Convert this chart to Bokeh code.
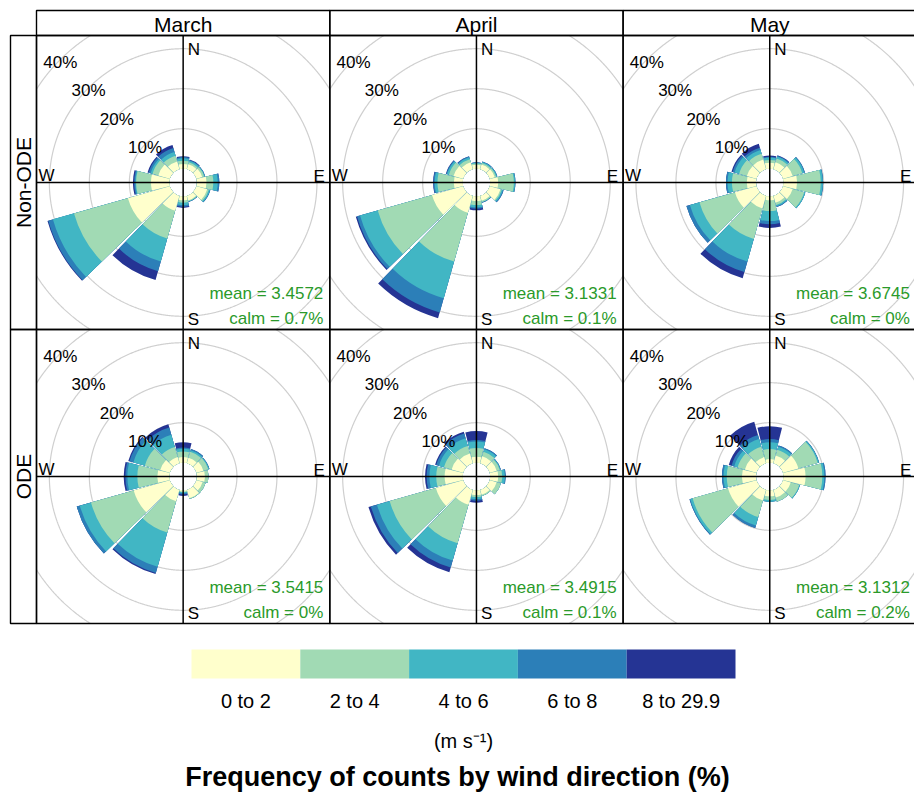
import numpy as np
from bokeh.plotting import figure
from bokeh.models import Range1d
from bokeh.core.properties import value
from bokeh.embed import file_html
from bokeh.resources import INLINE

# ---------------- data ----------------
directions = [0, 30, 60, 90, 120, 150, 180, 210, 240, 270, 300, 330]
speed_bins = ["0 to 2", "2 to 4", "4 to 6", "6 to 8", "8 to 29.9"]
bin_colors = ["#ffffcc", "#a1dab4", "#41b6c4", "#2c7fb8", "#253494"]
months = ["March", "April", "May"]
groups = ["Non-ODE", "ODE"]
grid_levels = [10, 20, 30, 40]
grid_labels = ["10%", "20%", "30%", "40%"]

# frequency (%) by direction; one row per speed bin (0-2, 2-4, 4-6, 6-8, 8-29.9)
march_non_ode = [
    [1.2, 1.3, 1.5, 2.4, 2.8, 1.2, 1.0, 3.9, 10.9, 4.6, 3.0, 2.0],
    [0.8, 0.5, 0.5, 1.7, 0.4, 0.2, 0.6, 7.2, 14.0, 3.7, 1.5, 1.5],
    [0.6, 0.4, 0.2, 1.1, 0.3, 0.1, 0.6, 6.0, 5.5, 0.2, 0.5, 1.0],
    [0.3, 0.2, 0.1, 0.4, 0.1, 0.1, 0.4, 2.5, 1.2, 0.3, 0.5, 1.0],
    [0.2, 0.1, 0.0, 0.0, 0.0, 0.0, 0.3, 2.3, 0.2, 0.3, 0.3, 0.8],
]
april_non_ode = [
    [1.0, 1.2, 1.3, 2.0, 2.8, 1.3, 1.2, 4.4, 8.1, 2.2, 2.5, 1.8],
    [0.3, 0.4, 0.4, 3.9, 0.3, 0.3, 1.0, 12.7, 14.1, 4.1, 1.2, 0.8],
    [0.2, 0.3, 0.2, 0.3, 0.3, 0.1, 0.6, 9.5, 4.6, 0.7, 0.5, 0.5],
    [0.1, 0.1, 0.1, 0.1, 0.2, 0.1, 0.3, 3.7, 0.8, 0.3, 0.2, 0.2],
    [0.0, 0.0, 0.0, 0.0, 0.0, 0.0, 0.4, 1.5, 0.3, 0.1, 0.1, 0.1],
]
may_non_ode = [
    [1.5, 1.8, 2.5, 3.4, 2.5, 1.8, 1.0, 3.3, 5.6, 2.3, 2.5, 2.5],
    [0.7, 1.0, 2.5, 5.9, 3.0, 0.6, 2.7, 7.9, 9.2, 3.7, 2.0, 1.5],
    [0.6, 0.5, 0.5, 0.5, 0.3, 0.3, 2.5, 5.9, 2.5, 1.1, 1.2, 1.0],
    [0.2, 0.2, 0.2, 0.1, 0.0, 0.2, 0.8, 2.7, 0.9, 0.4, 0.5, 0.6],
    [0.3, 0.1, 0.0, 0.0, 0.0, 0.0, 0.9, 1.6, 0.0, 0.0, 0.3, 1.0],
]
march_ode = [
    [1.4, 1.4, 1.8, 2.0, 1.6, 2.2, 0.3, 3.0, 9.4, 3.0, 2.5, 1.6],
    [1.4, 1.6, 1.3, 0.9, 0.8, 0.2, 0.2, 8.1, 11.1, 5.0, 4.0, 2.6],
    [0.7, 0.4, 0.2, 0.0, 0.0, 0.0, 0.2, 8.9, 2.9, 2.5, 3.0, 3.2],
    [0.3, 0.3, 0.1, 0.0, 0.0, 0.0, 0.3, 1.6, 0.8, 0.5, 1.0, 1.9],
    [1.3, 0.0, 0.0, 0.0, 0.0, 0.0, 0.4, 0.3, 0.0, 0.4, 0.3, 0.8],
]
april_ode = [
    [1.5, 1.8, 1.8, 2.0, 1.8, 1.3, 1.2, 3.9, 7.1, 4.5, 3.0, 2.5],
    [2.2, 1.2, 0.8, 1.0, 1.1, 0.3, 0.5, 10.0, 12.0, 2.1, 2.0, 2.0],
    [1.6, 0.6, 0.2, 0.7, 0.0, 0.0, 0.5, 4.5, 3.3, 1.7, 1.3, 2.0],
    [0.4, 0.3, 0.1, 0.2, 0.0, 0.0, 0.4, 1.8, 1.6, 0.7, 0.7, 1.2],
    [2.2, 0.0, 0.0, 0.0, 0.0, 0.0, 0.5, 1.2, 0.6, 0.4, 0.3, 0.5],
]
may_ode = [
    [0.9, 2.0, 4.0, 5.5, 2.0, 2.0, 1.5, 2.8, 7.4, 3.5, 3.0, 1.6],
    [2.5, 1.5, 5.0, 4.2, 2.2, 1.1, 0.9, 4.3, 9.2, 3.8, 1.9, 2.7],
    [1.7, 0.8, 0.3, 0.5, 0.2, 0.0, 0.5, 2.2, 0.6, 0.8, 0.9, 2.0],
    [0.8, 0.3, 0.1, 0.3, 0.0, 0.0, 0.0, 0.6, 0.2, 0.4, 0.7, 1.0],
    [3.2, 0.0, 0.0, 0.0, 0.0, 0.0, 0.0, 0.0, 0.0, 0.0, 0.7, 3.5],
]
mean_non_ode = ["3.4572", "3.1331", "3.6745"]
calm_non_ode = ["0.7%", "0.1%", "0%"]
mean_ode = ["3.5415", "3.4915", "3.1312"]
calm_ode = ["0%", "0.1%", "0.2%"]

panels = [[march_non_ode, april_non_ode, may_non_ode],
          [march_ode, april_ode, may_ode]]
means = [mean_non_ode, mean_ode]
calms = [calm_non_ode, calm_ode]

# ---------------- layout (pixels) ----------------
W, H = 914, 797
S = 4.0            # pixels per percent unit
OFF = 3.45         # hole in the middle (percent units)
GAP = 0.8          # angular gap on each side of a sector (deg)
col_edges = [36, 329.3, 622.6, 915.9]
row_edges = [35, 329, 623]
strip_top = 10
strip_left = 10
FONT = "Liberation Sans"


def ux(px):
    return px / S


def uy(py):
    return (H - py) / S


p = figure(width=W, height=H, x_range=Range1d(0, W / S), y_range=Range1d(0, H / S),
           output_backend="svg", toolbar_location=None, min_border=0)
p.axis.visible = False
p.grid.visible = False
p.outline_line_color = None
p.background_fill_color = "white"
p.border_fill_color = "white"

wx, wy, win, wout, wst, wen, wcol = [], [], [], [], [], [], []
cxs, cys, cl, cr, ct, cb = [], [], [], [], [], []
for r in range(2):
    for c in range(3):
        l, rt = col_edges[c], col_edges[c + 1]
        t, b = row_edges[r], row_edges[r + 1]
        cx, cy = ux((l + rt) / 2), uy((t + b) / 2)
        cxs.append(cx); cys.append(cy)
        cl.append(ux(l)); cr.append(ux(rt)); ct.append(uy(t)); cb.append(uy(b))
        cum = np.cumsum(np.array(panels[r][c]), axis=0)
        for k in reversed(range(len(speed_bins))):
            for j, d in enumerate(directions):
                if cum[k, j] <= 0:
                    continue
                wx.append(cx); wy.append(cy)
                win.append(OFF); wout.append(OFF + cum[k, j])
                wst.append(np.radians(90 - (d + 15 - GAP)))
                wen.append(np.radians(90 - (d - 15 + GAP)))
                wcol.append(bin_colors[k])

# grid circles clipped to each panel
gxs, gys = [], []
theta = np.linspace(0, 2 * np.pi, 1441)
for i in range(6):
    for lev in grid_levels:
        R = OFF + lev
        xs = cxs[i] + R * np.cos(theta)
        ys = cys[i] + R * np.sin(theta)
        out = (xs < cl[i]) | (xs > cr[i]) | (ys > ct[i]) | (ys < cb[i])
        xs = np.where(out, np.nan, xs)
        ys = np.where(out, np.nan, ys)
        gxs.append(xs); gys.append(ys)
p.multi_line(gxs, gys, line_color="#cfcfcf", line_width=1.2)

p.annular_wedge(x=wx, y=wy, inner_radius=win, outer_radius=wout,
                start_angle=wst, end_angle=wen, direction="anticlock",
                fill_color=wcol, line_color=None)

# axis cross lines
p.segment(x0=cxs, y0=ct, x1=cxs, y1=cb, line_color="black", line_width=1.5)
p.segment(x0=cl, y0=cys, x1=cr, y1=cys, line_color="black", line_width=1.5)

# compass labels
d_px = 1.0 / S
tx, ty, tt, ta = [], [], [], []
for i in range(6):
    tx += [cxs[i] + 4.5 * d_px, cxs[i] + 4.5 * d_px, cl[i] + 2 * d_px, cr[i] - 5 * d_px]
    ty += [ct[i] - 14 * d_px, cb[i] + 10.5 * d_px, cys[i] + 7 * d_px, cys[i] + 6 * d_px]
    tt += ["N", "S", "W", "E"]
    ta += ["left", "left", "left", "right"]
p.text(x=tx, y=ty, text=tt, text_align=ta, text_baseline="middle",
       text_font=value(FONT), text_font_size="17px", text_color="black")

# percentage labels along NW
px_, py_, pt_ = [], [], []
for i in range(6):
    for lev, lab in zip(grid_levels, grid_labels):
        R = OFF + lev
        px_.append(cxs[i] + R * np.cos(np.radians(135)))
        py_.append(cys[i] + R * np.sin(np.radians(135)) - 3 * d_px)
        pt_.append(lab)
p.text(x=px_, y=py_, text=pt_, text_align="center", text_baseline="middle",
       text_font=value(FONT), text_font_size="17px", text_color="black")

# mean / calm
mx, my, mt = [], [], []
for r in range(2):
    for c in range(3):
        i = r * 3 + c
        mx += [cr[i] - 6.5 * d_px, cr[i] - 6.5 * d_px]
        my += [cb[i] + 36 * d_px, cb[i] + 11 * d_px]
        mt += ["mean = " + means[r][c], "calm = " + calms[r][c]]
p.text(x=mx, y=my, text=mt, text_align="right", text_baseline="middle",
       text_font=value(FONT), text_font_size="17px", text_color="#2a9a2a")

# panel borders and strips
p.quad(left=cl, right=cr, top=ct, bottom=cb, fill_color=None,
       line_color="black", line_width=1.4)
p.quad(left=[ux(col_edges[c]) for c in range(3)], right=[ux(col_edges[c + 1]) for c in range(3)],
       top=[uy(strip_top)] * 3, bottom=[uy(row_edges[0])] * 3,
       fill_color=None, line_color="black", line_width=1.4)
p.quad(left=[ux(strip_left)] * 2, right=[ux(col_edges[0])] * 2,
       top=[uy(row_edges[r]) for r in range(2)], bottom=[uy(row_edges[r + 1]) for r in range(2)],
       fill_color=None, line_color="black", line_width=1.4)

p.text(x=[ux((col_edges[c] + col_edges[c + 1]) / 2) for c in range(3)],
       y=[uy(24)] * 3, text=months, text_align="center", text_baseline="middle",
       text_font=value(FONT), text_font_size="21px", text_color="black")
p.text(x=[ux((strip_left + col_edges[0]) / 2)] * 2,
       y=[uy((row_edges[r] + row_edges[r + 1]) / 2) for r in range(2)], text=groups,
       angle=np.pi / 2, text_align="center", text_baseline="middle",
       text_font=value(FONT), text_font_size="21px", text_color="black")

# legend colour key
key_l, key_r, key_t, key_b = 191, 735, 649, 678
step = (key_r - key_l) / len(speed_bins)
kl = [ux(key_l + i * step) for i in range(len(speed_bins))]
kr = [ux(key_l + (i + 1) * step) for i in range(len(speed_bins))]
p.quad(left=kl, right=kr, top=[uy(key_t)] * 5, bottom=[uy(key_b)] * 5,
       fill_color=bin_colors, line_color=None)
p.text(x=[(a + b) / 2 for a, b in zip(kl, kr)], y=[uy(700)] * 5, text=speed_bins,
       text_align="center", text_baseline="middle",
       text_font=value(FONT), text_font_size="20px", text_color="black")
p.text(x=[ux((key_l + key_r) / 2)], y=[uy(740)], text=["(m s\u207b\u00b9)"],
       text_align="center", text_baseline="middle",
       text_font=value(FONT), text_font_size="20px", text_color="black")
p.text(x=[ux(W / 2)], y=[uy(776)], text=["Frequency of counts by wind direction (%)"],
       text_align="center", text_baseline="middle", text_font_style="bold",
       text_font=value(FONT), text_font_size="27px", text_color="black")

open("out.html", "w").write(file_html(p, INLINE))
